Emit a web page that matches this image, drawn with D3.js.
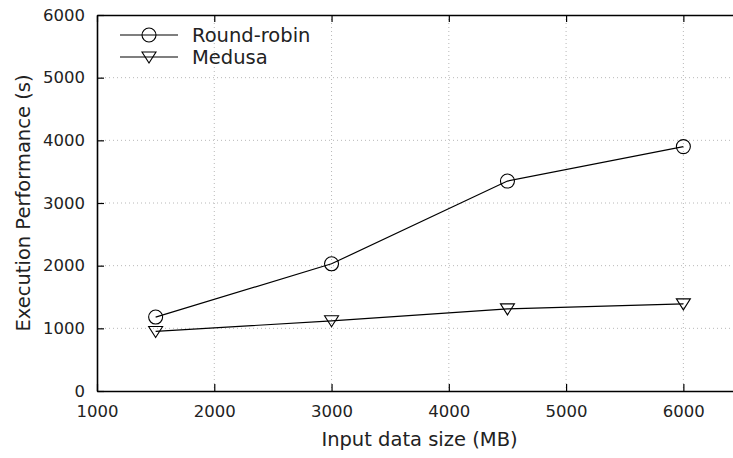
<!DOCTYPE html>
<html>
<head>
<meta charset="utf-8">
<script src="https://cdn.jsdelivr.net/npm/d3@7"></script>
<style>
  html, body { margin: 0; padding: 0; background: #fff; }
  svg { display: block; font-family: "DejaVu Sans", sans-serif; }
</style>
</head>
<body>
<svg id="chart" width="733" height="458"></svg>
<script>
// Input sizes (MB) and execution time (s) for each scheduling strategy
const inputSizes = [1500, 3000, 4500, 6000];
const roundRobin = [1180, 2030, 3350, 3900];
const medusa = [950, 1120, 1310, 1390];
const xTicks = [1000, 2000, 3000, 4000, 5000, 6000];
const yTicks = [0, 1000, 2000, 3000, 4000, 5000, 6000];

const svg = d3.select("#chart");
const plotLeft = 97, plotRight = 742, plotTop = 15, plotBottom = 391;

const x = d3.scaleLinear().domain([1000, 6500]).range([plotLeft, plotRight]);
const y = d3.scaleLinear().domain([0, 6000]).range([plotBottom, plotTop]);

// dotted grid
const grid = svg.append("g")
  .attr("stroke", "#b0b0b0").attr("stroke-width", 0.9)
  .attr("stroke-dasharray", "1,3");
grid.selectAll("line.gx").data(xTicks.slice(1)).join("line")
  .attr("class", "gx")
  .attr("x1", d => x(d)).attr("x2", d => x(d))
  .attr("y1", plotTop).attr("y2", plotBottom);
grid.selectAll("line.gy").data(yTicks.slice(1, -1)).join("line")
  .attr("class", "gy")
  .attr("y1", d => y(d)).attr("y2", d => y(d))
  .attr("x1", plotLeft).attr("x2", plotRight);

// axes with inward ticks
const tickFs = "16.5px";
const labelFs = "19.5px";
const xAxis = svg.append("g").attr("transform", `translate(0,${plotBottom})`)
  .call(d3.axisBottom(x).tickValues(xTicks).tickSizeInner(-7).tickSizeOuter(0).tickPadding(14).tickFormat(d3.format("d")));
const xTop = svg.append("g").attr("transform", `translate(0,${plotTop})`)
  .call(d3.axisTop(x).tickValues(xTicks).tickSizeInner(-7).tickSizeOuter(0).tickFormat(""));
const yAxis = svg.append("g").attr("transform", `translate(${plotLeft},0)`)
  .call(d3.axisLeft(y).tickValues(yTicks).tickSizeInner(-7).tickSizeOuter(0).tickPadding(12).tickFormat(d3.format("d")));

[xAxis, xTop, yAxis].forEach(g => {
  g.selectAll("path.domain").attr("stroke", "#000").attr("stroke-width", 1.6);
  g.selectAll(".tick line").attr("stroke", "#000").attr("stroke-width", 1.2);
  g.selectAll("text").attr("font-family", "DejaVu Sans").attr("font-size", tickFs).attr("fill", "#222");
});

// axis titles
svg.append("text").attr("x", (plotLeft + plotRight) / 2).attr("y", 446)
  .attr("text-anchor", "middle").attr("font-size", labelFs).attr("fill", "#222")
  .text("Input data size (MB)");
svg.append("text")
  .attr("transform", `translate(30,${(plotTop + plotBottom) / 2}) rotate(-90)`)
  .attr("text-anchor", "middle").attr("font-size", labelFs).attr("fill", "#222")
  .text("Execution Performance (s)");

const line = d3.line().x(d => x(d[0])).y(d => y(d[1]));
const circlePath = d3.symbol(d3.symbolCircle, Math.PI * 49);
const triPath = "M-7,-5L7,-5L0,6Z";

const series = [
  { name: "Round-robin", values: roundRobin, marker: "circle" },
  { name: "Medusa", values: medusa, marker: "tri" }
];

series.forEach((s, i) => {
  const pts = inputSizes.map((v, j) => [v, s.values[j]]);
  svg.append("path").datum(pts).attr("d", line)
    .attr("fill", "none").attr("stroke", "#000").attr("stroke-width", 1.2);
  svg.append("g").selectAll("path").data(pts).join("path")
    .attr("transform", d => `translate(${x(d[0])},${y(d[1])})`)
    .attr("d", s.marker === "circle" ? circlePath() : triPath)
    .attr("fill", "none").attr("stroke", "#000").attr("stroke-width", 1.1);

  // legend entry
  const ly = 35 + i * 22;
  const lg = svg.append("g");
  lg.append("line").attr("x1", 120).attr("x2", 178).attr("y1", ly).attr("y2", ly)
    .attr("stroke", "#000").attr("stroke-width", 1.2);
  lg.append("path").attr("transform", `translate(149,${ly})`)
    .attr("d", s.marker === "circle" ? circlePath() : triPath)
    .attr("fill", "none").attr("stroke", "#000").attr("stroke-width", 1.1);
  lg.append("text").attr("x", 192).attr("y", ly).attr("dy", "0.36em")
    .attr("font-size", labelFs).attr("fill", "#222").text(s.name);
});
</script>
</body>
</html>
